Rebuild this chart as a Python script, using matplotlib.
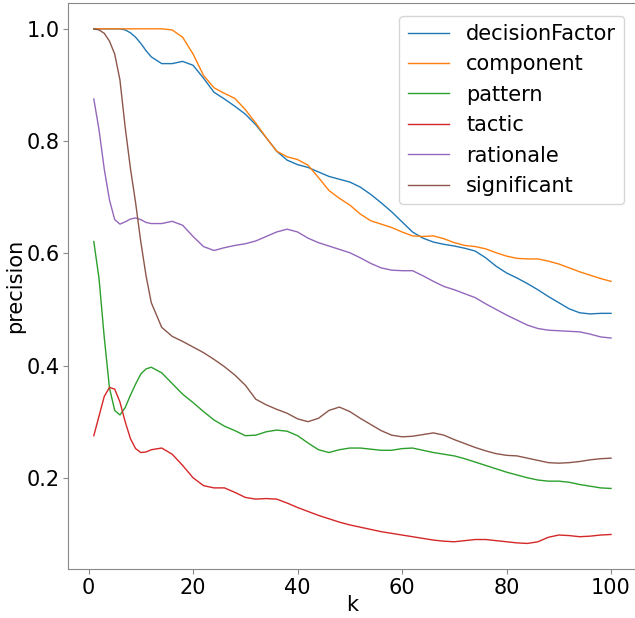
import matplotlib
matplotlib.use("Agg")
import matplotlib.pyplot as plt

# k values
k = [1, 2, 3, 4, 5, 6, 7, 8, 9, 10, 11, 12] + list(range(14, 101, 2))

decisionFactor = [1.0, 1.0, 1.0, 1.0, 1.0, 1.0, 0.998, 0.993, 0.985, 0.974, 0.961, 0.950,
                  0.938, 0.938, 0.942, 0.935, 0.912, 0.887, 0.875, 0.862, 0.848, 0.829, 0.806,
                  0.782, 0.766, 0.758, 0.753, 0.745, 0.737, 0.732, 0.727, 0.718, 0.705, 0.690,
                  0.674, 0.656, 0.638, 0.627, 0.620, 0.616, 0.613, 0.609, 0.604, 0.592, 0.577,
                  0.565, 0.556, 0.546, 0.535, 0.523, 0.512, 0.501, 0.494, 0.492, 0.493, 0.493]
component = [1.0, 1.0, 1.0, 1.0, 1.0, 1.0, 1.0, 1.0, 1.0, 1.0, 1.0, 1.0,
             1.0, 0.998, 0.985, 0.955, 0.917, 0.895, 0.885, 0.876, 0.856, 0.832, 0.806,
             0.782, 0.772, 0.767, 0.757, 0.735, 0.712, 0.698, 0.686, 0.670, 0.658, 0.652,
             0.646, 0.638, 0.631, 0.630, 0.631, 0.626, 0.619, 0.614, 0.612, 0.608, 0.601,
             0.595, 0.591, 0.590, 0.590, 0.586, 0.581, 0.574, 0.567, 0.561, 0.555, 0.550]
pattern = [0.621, 0.555, 0.450, 0.360, 0.320, 0.312, 0.325, 0.347, 0.367, 0.385, 0.394, 0.397,
           0.387, 0.368, 0.349, 0.334, 0.318, 0.303, 0.292, 0.284, 0.275, 0.276, 0.282,
           0.285, 0.283, 0.275, 0.262, 0.250, 0.245, 0.250, 0.253, 0.253, 0.251, 0.249,
           0.249, 0.252, 0.253, 0.249, 0.245, 0.242, 0.239, 0.234, 0.228, 0.222, 0.216,
           0.210, 0.205, 0.200, 0.196, 0.194, 0.194, 0.192, 0.188, 0.185, 0.182, 0.181]
tactic = [0.275, 0.310, 0.345, 0.361, 0.358, 0.335, 0.300, 0.270, 0.252, 0.245, 0.246, 0.250,
          0.253, 0.242, 0.222, 0.200, 0.186, 0.182, 0.182, 0.174, 0.165, 0.162, 0.163,
          0.162, 0.155, 0.147, 0.140, 0.133, 0.127, 0.121, 0.116, 0.112, 0.108, 0.104,
          0.101, 0.098, 0.095, 0.092, 0.089, 0.087, 0.086, 0.088, 0.090, 0.090, 0.088,
          0.086, 0.084, 0.083, 0.086, 0.094, 0.098, 0.097, 0.095, 0.096, 0.098, 0.099]
rationale = [0.875, 0.820, 0.750, 0.695, 0.660, 0.652, 0.656, 0.661, 0.663, 0.660, 0.655, 0.653,
             0.653, 0.657, 0.650, 0.630, 0.612, 0.605, 0.610, 0.614, 0.617, 0.622, 0.630,
             0.638, 0.643, 0.638, 0.627, 0.619, 0.613, 0.607, 0.601, 0.592, 0.582, 0.574,
             0.570, 0.569, 0.569, 0.560, 0.550, 0.541, 0.535, 0.528, 0.521, 0.510, 0.500,
             0.490, 0.481, 0.472, 0.466, 0.463, 0.462, 0.461, 0.460, 0.456, 0.451, 0.449]
significant = [1.0, 0.998, 0.992, 0.978, 0.955, 0.909, 0.825, 0.752, 0.690, 0.620, 0.560, 0.512,
               0.468, 0.452, 0.443, 0.433, 0.423, 0.411, 0.398, 0.383, 0.365, 0.340, 0.330,
               0.322, 0.315, 0.305, 0.300, 0.306, 0.320, 0.326, 0.318, 0.306, 0.295, 0.284,
               0.276, 0.273, 0.274, 0.277, 0.280, 0.276, 0.268, 0.261, 0.254, 0.248, 0.243,
               0.240, 0.239, 0.235, 0.231, 0.227, 0.226, 0.227, 0.229, 0.232, 0.234, 0.235]

names = ["decisionFactor", "component", "pattern", "tactic", "rationale", "significant"]
series = [decisionFactor, component, pattern, tactic, rationale, significant]

fig = plt.figure(figsize=(6.35, 6.18), dpi=100)
ax = fig.add_axes([0.107, 0.079, 0.896, 0.916])

for name, s in zip(names, series):
    ax.plot(k, s, label=name, linewidth=1.0)

ax.set_xlabel("k", fontsize=15, labelpad=-2)
ax.set_ylabel("precision", fontsize=15, labelpad=1)
ax.set_xticks([0, 20, 40, 60, 80, 100])
ax.set_yticks([0.2, 0.4, 0.6, 0.8, 1.0])
ax.tick_params(labelsize=15, colors="#888888", labelcolor="black", pad=2.5)
for sp in ax.spines.values():
    sp.set_color("#888888")

ax.legend(loc="upper right", fontsize=15, borderaxespad=0.6)

fig.savefig("out.png", dpi=100)
